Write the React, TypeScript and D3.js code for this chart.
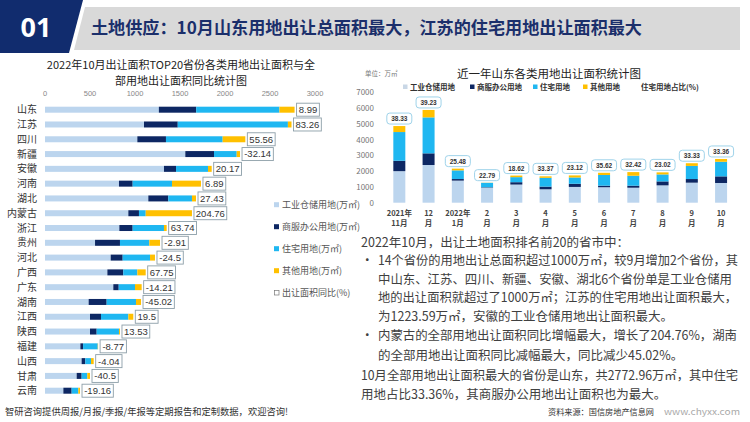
import React from "react";
import * as d3 from "d3";

const provinces = ["山东","江苏","四川","新疆","安徽","河南","湖北","内蒙古","浙江","贵州","河北","广西","广东","湖南","江西","陕西","福建","山西","甘肃","云南"];
const industrial = [1265,1100,1026,1559,1322,822,1148,926,826,556,730,693,759,485,500,500,393,407,352,204];
const commercial = [415,375,318,319,134,152,222,118,148,277,133,177,60,200,122,74,30,41,55,92];
const residential = [925,1224,630,252,355,437,263,75,348,326,304,156,181,326,304,248,163,63,63,74];
const other = [168,40,252,37,41,322,45,514,30,119,55,93,74,56,55,11,4,30,30,19];
const yoy = ["8.99","83.26","55.56","-32.14","20.17","6.89","27.43","204.76","63.74","-2.91","-24.5","67.75","-14.21","-45.02","19.5","13.53","-8.77","-4.04","-40.5","-19.16"];
const xTicks = [0,500,1000,1500,2000,2500,3000];

const months = ["2021年|11月","12|月","2022年|1月","2|月","3|月","4|月","5|月","6|月","7|月","8|月","9|月","10|月"];
const sdIndustrial = [2000,2390,1400,950,1150,850,1000,980,950,1100,1270,1250];
const sdCommercial = [660,740,100,30,150,170,200,100,130,250,230,420];
const sdResidential = [1820,2280,550,280,320,557,400,677,630,443,833,925];
const sdOther = [380,470,110,10,100,95,130,140,230,130,170,178];
const sdShare = ["38.33","39.23","25.48","22.79","18.62","33.37","23.12","35.62","32.42","23.02","33.33","33.36"];
const yTicks = [0,1000,2000,3000,4000,5000,6000,7000];

const C_IND = "#bcd5ee";
const C_COM = "#0d2763";
const C_RES = "#1fb7f1";
const C_OTH = "#ffc000";
const FONT = "'Noto Sans CJK SC','Noto Sans',sans-serif";

const paraLines: { text: string; x: number; y: number; w?: number; bullet?: boolean }[] = [
  { text: "2022年10月，出让土地面积排名前20的省市中：", x: 361, y: 246.5 },
  { text: "14个省份的用地出让总面积超过1000万㎡，较9月增加2个省份，其", x: 378, y: 265.3, w: 360, bullet: true },
  { text: "中山东、江苏、四川、新疆、安徽、湖北6个省份单是工业仓储用", x: 378, y: 283.6, w: 354 },
  { text: "地的出让面积就超过了1000万㎡；江苏的住宅用地出让面积最大，", x: 378, y: 302, w: 359 },
  { text: "为1223.59万㎡，安徽的工业仓储用地出让面积最大。", x: 378, y: 320.5 },
  { text: "内蒙古的全部用地出让面积同比增幅最大，增长了204.76%，湖南", x: 378, y: 340.3, w: 359, bullet: true },
  { text: "的全部用地出让面积同比减幅最大，同比减少45.02%。", x: 378, y: 359.6 },
  { text: "10月全部用地出让面积最大的省份是山东，共2772.96万㎡，其中住宅", x: 361, y: 380.3, w: 377 },
  { text: "用地占比33.36%，其商服办公用地出让面积也为最大。", x: 361, y: 399.3 },
];

function LeftChart() {
  const x = d3.scaleLinear().domain([0, 3000]).range([45, 315]);
  const y = d3.scalePoint<string>().domain(provinces).range([102.3, 398.1]).padding(0.5);
  const bh = 6;
  const series = [industrial, commercial, residential, other];
  const colors = [C_IND, C_COM, C_RES, C_OTH];
  const legend = [
    { label: "工业仓储用地(万㎡)", color: C_IND },
    { label: "商服办公用地(万㎡)", color: C_COM },
    { label: "住宅用地(万㎡)", color: C_RES },
    { label: "其他用地(万㎡)", color: C_OTH },
    { label: "出让面积同比(%)", color: "none" },
  ];
  return (
    <g>
      <text x={181} y={68.5} textAnchor="middle" fontSize={11} fill="#222" fontFamily={FONT}>2022年10月出让面积TOP20省份各类用地出让面积与全</text>
      <text x={181} y={84.5} textAnchor="middle" fontSize={11} fill="#222" fontFamily={FONT}>部用地出让面积同比统计图</text>
      {xTicks.map((t) => (
        <text key={t} x={x(t)} y={96} textAnchor="middle" fontSize={7.5} fill="#888" fontFamily="'Liberation Sans',Arial,sans-serif">{t}</text>
      ))}
      {provinces.map((p, i) => {
        const cy = y(p)!;
        let acc = 0;
        const segs = series.map((s, k) => {
          const x0 = x(acc);
          acc += s[i];
          return <rect key={k} x={x0} y={cy - bh / 2} width={x(acc) - x0} height={bh} fill={colors[k]} />;
        });
        const end = x(acc);
        const label = yoy[i];
        const tw = label.length * 5.0 - (label.includes(".") ? 2.2 : 0) + (label.startsWith("-") ? -1.5 : 0);
        const bw = tw + 5;
        return (
          <g key={p}>
            <text x={37} y={cy + 3.6} textAnchor="end" fontSize={10} fill="#333" fontFamily={FONT}>{p}</text>
            {segs}
            <rect x={end + 2} y={cy - 6.5} width={bw} height={13} fill="#fff" stroke="#8c9ea8" strokeWidth={0.9} />
            <text x={end + 2 + bw / 2} y={cy + 3.4} textAnchor="middle" fontSize={9.5} fill="#333" fontFamily="'Liberation Sans',Arial,sans-serif">{label}</text>
          </g>
        );
      })}
      {legend.map((l, i) => {
        const cy = 205 + i * 22;
        return (
          <g key={l.label}>
            {l.color === "none" ? (
              <rect x={274.5} y={cy - 2.5} width={4.5} height={4.5} fill="#fff" stroke="#777" strokeWidth={0.7} />
            ) : (
              <rect x={274} y={cy - 2.8} width={5} height={5} fill={l.color} />
            )}
            <text x={282} y={cy + 3} fontSize={9} fill="#555" fontFamily={FONT}>{l.label}</text>
          </g>
        );
      })}
    </g>
  );
}

function RightChart() {
  const x = d3.scalePoint<string>().domain(months).range([384.7, 735.7]).padding(0.5);
  const y = d3.scaleLinear().domain([0, 7000]).range([202.7, 92.3]);
  const bw = 12;
  const series = [sdIndustrial, sdCommercial, sdResidential, sdOther];
  const colors = [C_IND, C_COM, C_RES, C_OTH];
  const legend = [
    { label: "工业仓储用地", color: "#c9d7e6", x: 405 },
    { label: "商服办公用地", color: C_COM, x: 472 },
    { label: "住宅用地", color: C_RES, x: 535 },
    { label: "其他用地", color: C_OTH, x: 585 },
    { label: "住宅用地占比(%)", color: "none", x: 636 },
  ];
  return (
    <g>
      <text x={365} y={76} fontSize={6.5} fill="#777" fontFamily={FONT}>单位：万㎡</text>
      <text x={549} y={78} textAnchor="middle" fontSize={11.5} fill="#222" fontFamily={FONT}>近一年山东各类用地出让面积统计图</text>
      {legend.map((l) => (
        <g key={l.label}>
          {l.color !== "none" && <rect x={l.x - 2} y={84.5} width={4.5} height={4.5} fill={l.color} />}
          <text x={l.x + 5} y={90} fontSize={7.5} fill="#333" fontWeight="bold" fontFamily={FONT}>{l.label}</text>
        </g>
      ))}
      {yTicks.map((t) => (
        <text key={t} x={374} y={y(t) + 3} textAnchor="end" fontSize={8} fill="#777" fontFamily={FONT}>{t}</text>
      ))}
      {months.map((m, i) => {
        const cx = x(m)!;
        let acc = 0;
        const segs = series.map((s, k) => {
          const y0 = y(acc);
          acc += s[i];
          return <rect key={k} x={cx - bw / 2} y={y(acc)} width={bw} height={y0 - y(acc)} fill={colors[k]} />;
        });
        const top = y(acc);
        const [l1, l2] = m.split("|");
        return (
          <g key={m}>
            {segs}
            <rect x={cx - 12.5} y={top - 13} width={25} height={11} rx={3} fill="#fff" stroke="#9fd3ea" strokeWidth={1} />
            <text x={cx} y={top - 5} textAnchor="middle" fontSize={6.5} fontWeight="bold" fill="#333" fontFamily="'Liberation Sans',Arial,sans-serif">{sdShare[i]}</text>
            <text x={cx} y={216} textAnchor="middle" fontSize={7.5} fontWeight="bold" fill="#444" fontFamily={FONT}>{l1}</text>
            <text x={cx} y={226} textAnchor="middle" fontSize={7.5} fontWeight="bold" fill="#444" fontFamily={FONT}>{l2}</text>
          </g>
        );
      })}
    </g>
  );
}

export default function App() {
  return (
    <svg width={750} height={422} style={{ position: "absolute", left: 0, top: 0, background: "#fff" }}>
      <rect x={0} y={0} width={750} height={422} fill="#fff" />
      <polygon points="85,7 740,7 740,50 74,50" fill="#d9d9d9" />
      <polygon points="0,0 83,0 69,53 0,53" fill="#112c6e" />
      <text x={36} y={37} textAnchor="middle" fontSize={27} fontWeight="bold" fill="#fff" fontFamily="'Noto Sans','Open Sans',sans-serif">01</text>
      <text x={91} y={34} fontSize={17} fontWeight="bold" fill="#1b2f6b" fontFamily={FONT} textLength={551} lengthAdjust="spacingAndGlyphs">土地供应：10月山东用地出让总面积最大，江苏的住宅用地出让面积最大</text>
      <LeftChart />
      <RightChart />
      {paraLines.map((l, i) => (
        <g key={i}>
          {l.bullet && <text x={361} y={l.y} fontSize={12.5} fill="#404040" fontFamily={FONT}>•</text>}
          <text x={l.x} y={l.y} fontSize={12.5} fill="#404040" fontFamily={FONT} {...(l.w ? { textLength: l.w, lengthAdjust: "spacingAndGlyphs" } : {})}>{l.text}</text>
        </g>
      ))}
      <text x={5} y={415} fontSize={9.5} fill="#333" fontFamily={FONT} textLength={283} lengthAdjust="spacingAndGlyphs">智研咨询提供周报/月报/季报/年报等定期报告和定制数据，欢迎咨询!</text>
      <text x={548} y={415} fontSize={8.5} fill="#333" fontFamily={FONT} textLength={106} lengthAdjust="spacingAndGlyphs">资料来源：国信房地产信息网</text>
      <text x={664} y={415} fontSize={8.5} fill="#aaa" fontFamily={FONT} textLength={76} lengthAdjust="spacingAndGlyphs">www.chyxx.com</text>
    </svg>
  );
}
